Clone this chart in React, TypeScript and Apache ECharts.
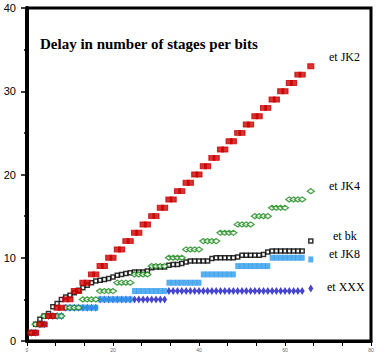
import React, { useEffect, useRef } from "react";
import * as echarts from "echarts";

const bits = [
  1, 2, 3, 4, 5, 6, 7, 8, 9, 10, 11, 12, 13, 14, 15, 16,
  17, 18, 19, 20, 21, 22, 23, 24, 25, 26, 27, 28, 29, 30, 31, 32,
  33, 34, 35, 36, 37, 38, 39, 40, 41, 42, 43, 44, 45, 46, 47, 48,
  49, 50, 51, 52, 53, 54, 55, 56, 57, 58, 59, 60, 61, 62, 63, 64, 66,
];

const jk2 = [
  1, 1, 2, 2, 3, 3, 4, 4, 5, 5, 6, 6, 7, 7, 8, 8,
  9, 9, 10, 10, 11, 11, 12, 12, 13, 13, 14, 14, 15, 15, 16, 16,
  17, 17, 18, 18, 19, 19, 20, 20, 21, 21, 22, 22, 23, 23, 24, 24,
  25, 25, 26, 26, 27, 27, 28, 28, 29, 29, 30, 30, 31, 31, 32, 32, 33,
];

const jk4 = [
  1, 2, 2, 3, 3, 3, 3, 3, 4, 4, 4, 4, 5, 5, 5, 5,
  6, 6, 6, 6, 7, 7, 7, 7, 8, 8, 8, 8, 9, 9, 9, 9,
  10, 10, 10, 10, 11, 11, 11, 11, 12, 12, 12, 12, 13, 13, 13, 13,
  14, 14, 14, 14, 15, 15, 15, 15, 16, 16, 16, 16, 17, 17, 17, 17, 18,
];

const bk = [
  1, 2, 2.6, 3, 3.3, 4.1, 4.5, 5.0, 5.3, 5.5, 5.8, 6.1, 6.4, 6.7, 7.0, 7.2,
  7.3, 7.4, 7.5, 7.7, 7.9, 8.0, 8.1, 8.2, 8.3, 8.3, 8.3, 8.4, 8.8, 8.9, 8.9, 8.9,
  9.1, 9.2, 9.2, 9.3, 9.5, 9.6, 9.6, 9.6, 9.6, 9.6, 9.9, 10, 10, 10, 10, 10,
  10.1, 10.3, 10.3, 10.3, 10.3, 10.3, 10.4, 10.7, 10.8, 10.8, 10.8, 10.8, 10.8, 10.8, 10.8, 10.8, 12,
];

const jk8 = [
  1, 1, 2, 2, 3, 3, 3, 3, 4, 4, 4, 4, 4, 4, 4, 4,
  5, 5, 5, 5, 5, 5, 5, 5, 6, 6, 6, 6, 6, 6, 6, 6,
  7, 7, 7, 7, 7, 7, 7, 7, 8, 8, 8, 8, 8, 8, 8, 8,
  9, 9, 9, 9, 9, 9, 9, 9, 10, 10, 10, 10, 10, 10, 10, 10, 9.8,
];

const xxx = [
  1, 1, 2, 2, 3, 3, 3, 3, 4, 4, 4, 4, 4, 4, 4, 4,
  5, 5, 5, 5, 5, 5, 5, 5, 5, 5, 5, 5, 5, 5, 5, 5,
  6, 6, 6, 6, 6, 6, 6, 6, 6, 6, 6, 6, 6, 6, 6, 6,
  6, 6, 6, 6, 6, 6, 6, 6, 6, 6, 6, 6, 6, 6, 6, 6, 6.3,
];

const title = "Delay in number of stages per bits";
const seriesLabels = [
  { text: "et JK2", x: 329, y: 57 },
  { text: "et JK4", x: 329, y: 186 },
  { text: "et bk", x: 333, y: 236 },
  { text: "et JK8", x: 329, y: 254 },
  { text: "et XXX", x: 327, y: 287 },
];

const pairs = (ys: number[]) => bits.map((x, i) => [x, ys[i]]);

export default function App() {
  const ref = useRef<HTMLDivElement>(null);
  useEffect(() => {
    const chart = echarts.init(ref.current!, null, { renderer: "svg" });
    chart.setOption({
      animation: false,
      backgroundColor: "#fff",
      grid: {
        left: 27,
        right: 13,
        top: 8,
        bottom: 19,
        show: true,
        borderColor: "#000",
        borderWidth: 3,
        backgroundColor: "transparent",
      },
      xAxis: {
        type: "value",
        min: 0,
        max: 80,
        interval: 20,
        axisLine: { show: true, onZero: false, lineStyle: { color: "#000", width: 3 } },
        axisTick: { show: true, length: 5, lineStyle: { color: "#000", width: 1 } },
        minorTick: { show: true, splitNumber: 3, length: 5, lineStyle: { color: "#000", width: 1 } },
        splitLine: { show: false },
        minorSplitLine: { show: false },
        axisLabel: { fontSize: 5, color: "#666", margin: 6, fontFamily: "Liberation Sans" },
      },
      yAxis: {
        type: "value",
        min: 0,
        max: 40,
        interval: 10,
        axisLine: { show: true, onZero: false, lineStyle: { color: "#000", width: 4 } },
        axisTick: { show: true, length: 6, lineStyle: { color: "#000", width: 1.5 } },
        minorTick: { show: true, splitNumber: 2, length: 3, lineStyle: { color: "#000", width: 1.5 } },
        splitLine: { show: false },
        minorSplitLine: { show: false },
        axisLabel: { fontSize: 11, color: "#000", margin: 11, fontFamily: "Liberation Sans" },
      },
      graphic: [
        {
          type: "text",
          left: 40,
          top: 36,
          style: { text: title, font: 'bold 15px "Liberation Serif"', fill: "#000" },
        },
        ...seriesLabels.map((l) => ({
          type: "text",
          x: l.x,
          y: l.y,
          style: {
            text: l.text,
            font: '12px "Liberation Serif"',
            fill: "#000",
            verticalAlign: "middle",
          },
        })),
      ],
      series: [
        {
          name: "et XXX",
          type: "scatter",
          data: pairs(xxx),
          symbol: "diamond",
          symbolSize: [5, 8],
          itemStyle: { color: "#1616c4" },
        },
        {
          name: "et JK8",
          type: "scatter",
          data: pairs(jk8),
          symbol: "rect",
          symbolSize: [5, 6],
          itemStyle: { color: "#2e9bec" },
        },
        {
          name: "et bk",
          type: "scatter",
          data: pairs(bk),
          symbol: "rect",
          symbolSize: [4, 4],
          itemStyle: { color: "#fff", borderColor: "#000", borderWidth: 1.5 },
        },
        {
          name: "et JK4",
          type: "scatter",
          data: pairs(jk4),
          symbol: "diamond",
          symbolSize: [7, 5],
          itemStyle: { color: "#fff", borderColor: "#1a8a1a", borderWidth: 1.3 },
        },
        {
          name: "et JK2",
          type: "scatter",
          data: pairs(jk2),
          symbol: "rect",
          symbolSize: [6, 5],
          itemStyle: { color: "#cc0000", borderColor: "#cc0000", borderWidth: 1 },
        },
      ],
    });
    return () => chart.dispose();
  }, []);
  return (
    <div
      ref={ref}
      style={{ position: "fixed", left: 0, top: 0, width: 384, height: 360, background: "#fff" }}
    />
  );
}
